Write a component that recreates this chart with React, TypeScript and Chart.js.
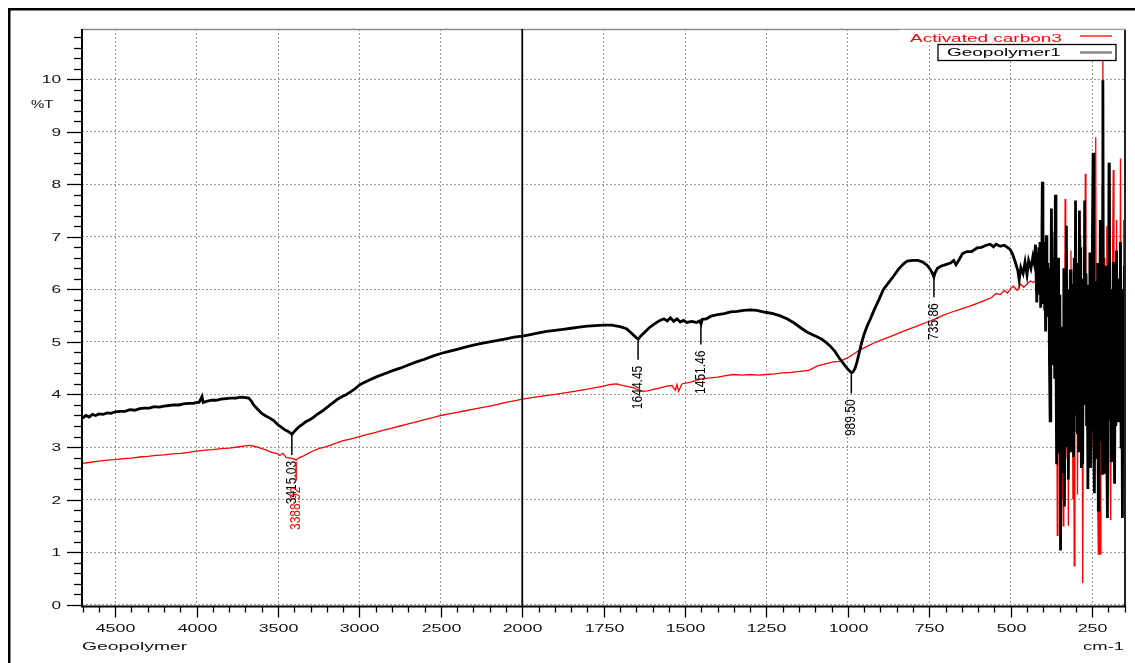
import React, { useEffect, useRef } from "react";
import { Chart, registerables } from "chart.js";

Chart.register(...registerables);

// ---------------- data ----------------
const seriesNames = ["Geopolymer1", "Activated carbon3"];

// Geopolymer1 — smooth part of the spectrum
const geoWave = [
  4700, 4680, 4660, 4640, 4620, 4600, 4575, 4550, 4525, 4500, 4470, 4440, 4410, 4380, 4350, 4320, 4290, 4260,
  4230, 4200, 4170, 4140, 4110, 4080, 4050, 4020, 4000, 3985, 3967, 3960, 3940, 3910, 3880, 3850, 3820, 3790,
  3760, 3730, 3700, 3680, 3665, 3650, 3625, 3600, 3575, 3550, 3525, 3500, 3480, 3460, 3440, 3425, 3415, 3405,
  3390, 3370, 3350, 3330, 3305, 3285, 3260, 3230, 3205, 3180, 3155, 3130, 3105, 3080, 3055, 3030, 3000, 2970,
  2935, 2900, 2850, 2800, 2750, 2700, 2650, 2600, 2550, 2500, 2450, 2400, 2350, 2300, 2250, 2200, 2150, 2100,
  2050, 2000, 1975, 1950, 1925, 1900, 1875, 1850, 1825, 1800, 1775, 1750, 1725, 1700, 1680, 1665, 1655, 1648,
  1644, 1638, 1625, 1610, 1595, 1580, 1565, 1555, 1545, 1535, 1525, 1515, 1505, 1495, 1480, 1465, 1455, 1451,
  1447, 1435, 1420, 1400, 1380, 1360, 1340, 1320, 1300, 1280, 1260, 1249, 1230, 1210, 1187, 1165, 1145, 1126,
  1110, 1095, 1080, 1065, 1054, 1040, 1025, 1010, 1000, 993, 989, 984, 978, 972, 965, 958, 950, 941, 930, 920,
  905, 891, 875, 860, 845, 830, 818, 800, 785, 770, 757, 747, 740, 736, 732, 725, 715, 700, 685, 675, 668, 660,
  648, 635, 620, 603, 590, 575, 563, 553, 545, 532, 520, 510, 502, 495, 486, 478, 474, 469, 462, 456, 450, 445,
  438, 432, 428, 424,
];
const geoT = [
  3.55, 3.6, 3.57, 3.62, 3.6, 3.63, 3.62, 3.65, 3.64, 3.67, 3.68, 3.68, 3.71, 3.7, 3.73, 3.74, 3.74, 3.77,
  3.76, 3.78, 3.79, 3.8, 3.8, 3.82, 3.83, 3.83, 3.85, 3.85, 3.96, 3.85, 3.87, 3.89, 3.89, 3.91, 3.92, 3.93,
  3.93, 3.95, 3.94, 3.93, 3.88, 3.8, 3.72, 3.64, 3.59, 3.55, 3.5, 3.42, 3.38, 3.33, 3.3, 3.27, 3.24, 3.28,
  3.33, 3.39, 3.43, 3.48, 3.52, 3.56, 3.62, 3.68, 3.74, 3.8, 3.86, 3.92, 3.96, 4.0, 4.05, 4.1, 4.18, 4.23,
  4.28, 4.33, 4.39, 4.45, 4.5, 4.56, 4.62, 4.67, 4.73, 4.78, 4.82, 4.86, 4.9, 4.94, 4.97, 5.0, 5.03, 5.06,
  5.09, 5.11, 5.14, 5.17, 5.2, 5.22, 5.24, 5.26, 5.28, 5.3, 5.31, 5.32, 5.32, 5.29, 5.25, 5.17, 5.11, 5.07,
  5.05, 5.1, 5.18, 5.27, 5.34, 5.4, 5.44, 5.4, 5.46, 5.39, 5.44, 5.38, 5.41, 5.37, 5.39, 5.37, 5.4, 5.34,
  5.43, 5.44, 5.49, 5.52, 5.54, 5.57, 5.58, 5.6, 5.61, 5.6, 5.57, 5.56, 5.54, 5.5, 5.44, 5.36, 5.27, 5.19,
  5.14, 5.1, 5.05, 4.98, 4.92, 4.82, 4.68, 4.56, 4.48, 4.44, 4.41, 4.43, 4.5, 4.62, 4.8, 4.98, 5.15, 5.3, 5.45, 5.6,
  5.8, 6.0, 6.13, 6.25, 6.38, 6.48, 6.54, 6.55, 6.55, 6.52, 6.46, 6.38, 6.3, 6.24, 6.32, 6.4, 6.44, 6.47, 6.5, 6.55, 6.47, 6.55,
  6.68, 6.72, 6.72, 6.79, 6.8, 6.84, 6.86, 6.81, 6.86, 6.82, 6.84, 6.8, 6.76, 6.68, 6.52, 6.35, 6.18, 6.42, 6.3, 6.52, 6.28, 6.55,
  6.4, 6.62, 6.5, 6.85,
];

// Geopolymer1 — noisy low-wavenumber end (420 → 147 cm-1)
const geoNoiseWave = [
  420, 418, 416, 414, 412, 410, 408, 406, 404, 403,
  401, 399, 397, 395, 393, 391, 389, 387, 385, 383,
  381, 379, 377, 375, 373, 371, 369, 367, 365, 363,
  361, 359, 357, 355, 353, 351, 349, 347, 345, 343,
  341, 339, 337, 335, 333, 331, 329, 327, 325, 323,
  321, 319, 317, 315, 313, 311, 309, 307, 305, 303,
  301, 299, 297, 295, 293, 291, 289, 287, 285, 283,
  281, 279, 277, 275, 273, 271, 269, 267, 265, 263,
  261, 259, 257, 255, 253, 251, 249, 247, 245, 243,
  241, 239, 237, 235, 233, 231, 229, 227, 225, 223,
  221, 219, 217, 215, 213, 211, 209, 207, 205, 203,
  201, 199, 197, 195, 193, 191, 189, 187, 185, 183,
  181, 179, 177, 175, 173, 171, 169, 167, 165, 163,
  161, 159, 157, 155, 153, 151, 149, 147,
];
const geoNoiseT = [
  5.75, 6.7, 6.1, 6.8, 5.9, 6.9, 5.65, 6.5, 7.2, 8.05,
  5.72, 6.6, 6.0, 6.9, 5.2, 7.03, 5.9, 6.5, 5.5, 6.4,
  4.6, 3.5, 5.5, 7.54, 5.1, 6.6, 4.56, 6.3, 4.3, 7.8,
  4.8, 2.67, 6.2, 3.9, 6.6, 2.9, 5.9, 1.03, 4.8, 2.5,
  5.29, 3.2, 6.4, 1.87, 5.6, 3.0, 7.21, 3.4, 6.0, 2.38,
  5.7, 3.1, 6.38, 2.9, 6.1, 3.5, 5.4, 2.81, 6.6, 3.6,
  7.69, 4.2, 6.5, 3.25, 5.8, 2.9, 7.5, 4.1, 6.8, 2.6,
  5.5, 2.67, 6.2, 3.8, 7.69, 3.9, 6.3, 3.4, 5.8, 2.2,
  6.09, 3.6, 6.7, 2.6, 5.5, 3.3, 7.1, 8.6, 3.0, 2.12,
  6.0, 3.4, 6.16, 2.8, 6.5, 1.8, 5.2, 3.1, 7.32, 4.0,
  6.8, 2.5, 9.98, 4.2, 2.52, 6.2, 3.3, 6.45, 2.9, 1.65,
  5.6, 3.5, 8.41, 3.6, 6.0, 2.74, 5.8, 3.2, 6.52, 3.8,
  2.3, 6.1, 3.4, 6.74, 4.0, 6.2, 3.47, 5.9, 3.8, 6.9,
  3.0, 5.6, 1.65, 6.0, 3.5, 6.45, 4.5, 5.5,
];

// Activated carbon3 — smooth part
const carbonWave = [
  4700, 4650, 4600, 4550, 4500, 4450, 4400, 4350, 4300, 4250, 4200, 4150, 4100, 4050, 4000, 3950, 3900, 3850,
  3800, 3750, 3700, 3670, 3640, 3600, 3570, 3540, 3510, 3490, 3470, 3450, 3420, 3400, 3389, 3375, 3350, 3320,
  3290, 3250, 3215, 3180, 3140, 3100, 3057, 3000, 2950, 2900, 2850, 2800, 2750, 2700, 2650, 2600, 2550, 2500,
  2450, 2400, 2350, 2300, 2250, 2200, 2150, 2100, 2050, 2000, 1950, 1900, 1850, 1800, 1775, 1750, 1730, 1710,
  1690, 1675, 1660, 1645, 1630, 1615, 1600, 1580, 1556, 1540, 1530, 1525, 1520, 1510, 1480, 1455, 1430, 1400,
  1375, 1352, 1325, 1300, 1275, 1249, 1225, 1200, 1175, 1147, 1120, 1095, 1070, 1045, 1025, 1000, 980, 963,
  940, 920, 900, 870, 839, 815, 788, 760, 735, 710, 685, 660, 630, 605, 583, 560, 545, 532, 520, 510, 500, 492,
  480, 470, 460, 450, 440, 431, 420, 409,
];
const carbonT = [
  2.69, 2.71, 2.73, 2.75, 2.76, 2.78, 2.79, 2.81, 2.82, 2.84, 2.85, 2.87, 2.88, 2.9, 2.92, 2.94, 2.95, 2.97,
  2.98, 3.0, 3.02, 3.03, 3.01, 2.97, 2.94, 2.9, 2.88, 2.84, 2.88, 2.8, 2.79, 2.77, 2.75, 2.79, 2.82, 2.87,
  2.92, 2.97, 3.0, 3.03, 3.08, 3.12, 3.15, 3.2, 3.24, 3.28, 3.32, 3.36, 3.4, 3.44, 3.48, 3.52, 3.56, 3.6,
  3.63, 3.66, 3.69, 3.72, 3.75, 3.78, 3.81, 3.85, 3.88, 3.91, 3.96, 4.0, 4.05, 4.1, 4.13, 4.16, 4.19, 4.2,
  4.17, 4.15, 4.13, 4.09, 4.06, 4.07, 4.09, 4.12, 4.16, 4.17, 4.08, 4.19, 4.06, 4.2, 4.24, 4.29, 4.31, 4.33,
  4.36, 4.38, 4.37, 4.38, 4.37, 4.38, 4.39, 4.41, 4.42, 4.44, 4.46, 4.54, 4.58, 4.62, 4.63, 4.7, 4.78, 4.85,
  4.92, 4.98, 5.03, 5.1, 5.18, 5.24, 5.3, 5.37, 5.43, 5.5, 5.56, 5.61, 5.67, 5.73, 5.78, 5.84, 5.92, 5.9, 5.98, 5.93, 6.02, 6.06,
  5.98, 6.1, 6.04, 6.1, 6.16, 6.13, 6.18, 6.19,
];

// Activated carbon3 — noisy low-wavenumber end (407 → 147 cm-1)
const carbonNoiseWave = [
  407, 405, 403, 401, 399, 397, 395, 393, 391, 389,
  387, 385, 383, 381, 379, 377, 375, 373, 371, 369,
  367, 365, 363, 361, 359, 357, 355, 353, 351, 349,
  347, 345, 343, 341, 339, 337, 335, 333, 331, 329,
  327, 325, 323, 321, 319, 317, 315, 313, 311, 309,
  307, 305, 303, 301, 299, 297, 295, 293, 291, 289,
  287, 285, 283, 281, 279, 277, 275, 273, 271, 269,
  267, 265, 263, 261, 259, 257, 255, 253, 251, 249,
  247, 245, 243, 241, 239, 237, 235, 233, 231, 229,
  227, 225, 223, 221, 219, 217, 215, 213, 211, 209,
  207, 205, 203, 201, 199, 197, 195, 193, 191, 189,
  187, 185, 183, 181, 179, 177, 175, 173, 171, 169,
  167, 165, 163, 161, 159, 157, 155, 153, 151, 149,
  147,
];
const carbonNoiseT = [
  5.9, 6.4, 5.8, 6.5, 5.6, 6.3, 5.6, 6.6, 6.8, 5.7,
  6.2, 5.5, 6.5, 5.9, 6.3, 6.9, 5.4, 6.0, 4.8, 6.2,
  7.1, 4.6, 6.0, 3.5, 5.2, 1.32, 4.5, 6.16, 3.8, 5.6,
  3.0, 5.0, 2.0, 4.6, 1.5, 5.2, 3.4, 7.72, 4.5, 6.0,
  2.8, 5.3, 1.5, 4.2, 6.0, 3.5, 6.74, 3.2, 5.1, 2.0,
  4.4, 0.74, 4.1, 5.94, 3.3, 5.5, 2.09, 4.6, 6.0, 3.5,
  7.03, 4.5, 3.0, 5.5, 0.41, 4.2, 6.52, 4.8, 8.2, 3.9,
  6.3, 3.25, 5.4, 2.6, 6.0, 4.0, 6.5, 3.0, 5.2, 4.0,
  6.5, 3.0, 5.6, 3.2, 8.89, 4.5, 6.0, 2.0, 0.96, 4.0,
  2.2, 0.96, 4.5, 5.5, 8.0, 10.38, 5.0, 6.6, 3.1, 5.5,
  4.0, 7.2, 3.0, 8.41, 4.5, 6.0, 2.8, 1.61, 5.0, 3.3,
  6.8, 8.27, 4.0, 2.89, 6.0, 3.6, 7.32, 4.2, 5.5, 3.83,
  6.0, 4.2, 8.49, 5.0, 3.0, 2.89, 6.0, 7.32, 4.6, 5.5,
  5.0,
];

// peak annotations
const peakWave = [3415.03, 1644.45, 1451.46, 989.5, 735.86, 3388.92];
const peakT = [3.25, 5.06, 5.35, 4.42, 6.25, 2.76];
const peakLabels = ["3415.03", "1644.45", "1451.46", "989.50", "735.86", "3388.92"];
const peakSeries = [0, 0, 0, 0, 0, 1];

const yTitle = "%T";
const xTitle = "Geopolymer";
const xUnit = "cm-1";

// axis with a scale break at 2000 cm-1 (high-wavenumber half compressed 2x)
const BREAK = 2000;
const toAxis = (w: number) => (w > BREAK ? BREAK + (w - BREAK) / 2 : w);
const fromAxis = (u: number) => (u > BREAK ? BREAK + (u - BREAK) * 2 : u);

const X_MIN = 146;
const X_MAX = 3352;
const Y_MIN = -0.035;
const Y_MAX = 10.955;

const colors = ["#000000", "#ff0000"];
const FONT = '"Liberation Sans", Arial, Helvetica, sans-serif';

const isMajorX = (v: number) => Math.abs(v / 250 - Math.round(v / 250)) < 1e-6;
const isMajorY = (v: number) => Math.abs(v - Math.round(v)) < 1e-6;

function wideText(
  ctx: CanvasRenderingContext2D,
  text: string,
  x: number,
  y: number,
  align: CanvasTextAlign,
  size: number,
  sx: number,
  color: string
) {
  ctx.save();
  ctx.translate(x, y);
  ctx.scale(sx, 1);
  ctx.font = `${size}px ${FONT}`;
  ctx.fillStyle = color;
  ctx.textAlign = align;
  ctx.textBaseline = "middle";
  ctx.fillText(text, 0, 0);
  ctx.restore();
}

const decor = {
  id: "decor",
  beforeDraw(chart: any) {
    const ctx = chart.ctx as CanvasRenderingContext2D;
    ctx.save();
    ctx.fillStyle = "#ffffff";
    ctx.fillRect(0, 0, chart.width, chart.height);
    ctx.fillStyle = "#000";
    ctx.fillRect(8, 8, chart.width, 2.5);
    ctx.fillRect(8, 8, 2.5, chart.height);
    ctx.restore();
  },
  afterDraw(chart: any) {
    const ctx = chart.ctx as CanvasRenderingContext2D;
    const a = chart.chartArea;
    const xs = chart.scales.x;
    const ys = chart.scales.y;
    ctx.save();

    // frame of plot
    ctx.strokeStyle = "#8a8a8a";
    ctx.lineWidth = 1.5;
    ctx.beginPath();
    ctx.moveTo(a.left, a.top + 0.5);
    ctx.lineTo(a.right, a.top + 0.5);
    ctx.stroke();
    ctx.strokeStyle = "#222";
    ctx.lineWidth = 2;
    ctx.beginPath();
    ctx.moveTo(a.right - 1, a.top);
    ctx.lineTo(a.right - 1, a.bottom);
    ctx.stroke();

    // scale-break line
    const bx = xs.getPixelForValue(BREAK);
    ctx.strokeStyle = "#000";
    ctx.lineWidth = 1.8;
    ctx.beginPath();
    ctx.moveTo(bx, a.top);
    ctx.lineTo(bx, a.bottom);
    ctx.stroke();

    // axes lines
    ctx.lineWidth = 2;
    ctx.beginPath();
    ctx.moveTo(a.left, a.top);
    ctx.lineTo(a.left, a.bottom + 1);
    ctx.moveTo(a.left, a.bottom);
    ctx.lineTo(a.right, a.bottom);
    ctx.stroke();

    // x ticks + labels
    ctx.lineWidth = 1.3;
    for (const t of xs.ticks) {
      const px = Math.round(xs.getPixelForValue(t.value)) + 0.5;
      const major = isMajorX(t.value);
      ctx.beginPath();
      ctx.moveTo(px, a.bottom);
      ctx.lineTo(px, a.bottom + (major ? 11 : 6));
      ctx.stroke();
      if (major) {
        wideText(ctx, String(fromAxis(t.value)), px, a.bottom + 22.5, "center", 11.5, 1.55, "#111");
      }
    }
    // y ticks + labels
    for (const t of ys.ticks) {
      const py = Math.round(ys.getPixelForValue(t.value)) + 0.5;
      const major = isMajorY(t.value);
      ctx.beginPath();
      ctx.moveTo(a.left - (major ? 15 : 8), py);
      ctx.lineTo(a.left, py);
      ctx.stroke();
      if (major) {
        wideText(ctx, String(Math.round(t.value)), a.left - 21, py, "right", 11.5, 1.5, "#111");
      }
    }

    // titles
    wideText(ctx, yTitle, 31, 105, "left", 11.5, 1.3, "#111");
    wideText(ctx, xTitle, a.left, 647, "left", 11.5, 1.68, "#111");
    wideText(ctx, xUnit, a.right - 2, 647, "right", 11.5, 1.6, "#111");

    // peak markers
    for (let i = 0; i < peakWave.length; i++) {
      const col = colors[peakSeries[i]];
      const px = xs.getPixelForValue(toAxis(peakWave[i]));
      const py = ys.getPixelForValue(peakT[i]);
      ctx.strokeStyle = col;
      ctx.lineWidth = 1.5;
      ctx.beginPath();
      ctx.moveTo(px, py + 2);
      ctx.lineTo(px, py + 21);
      ctx.stroke();
      ctx.save();
      ctx.translate(px, py + 27);
      ctx.scale(1.2, 1);
      ctx.rotate(-Math.PI / 2);
      ctx.font = `12px ${FONT}`;
      ctx.fillStyle = col;
      ctx.textAlign = "right";
      ctx.textBaseline = "middle";
      ctx.fillText(peakLabels[i], 0, 0);
      ctx.restore();
    }

    // legend
    ctx.fillStyle = "#fff";
    ctx.fillRect(900, a.top + 1, a.right - 902, 15);
    ctx.strokeStyle = "#9a9a9a";
    ctx.lineWidth = 1;
    ctx.beginPath();
    ctx.moveTo(900, a.top + 0.5);
    ctx.lineTo(a.right, a.top + 0.5);
    ctx.stroke();
    wideText(ctx, seriesNames[1], 910, 39, "left", 11.5, 1.65, colors[1]);
    ctx.strokeStyle = colors[1];
    ctx.lineWidth = 1.3;
    ctx.beginPath();
    ctx.moveTo(1080, 36);
    ctx.lineTo(1112, 36);
    ctx.stroke();
    ctx.fillStyle = "#fff";
    ctx.fillRect(938, 44.5, 178, 16);
    ctx.strokeStyle = "#000";
    ctx.lineWidth = 1.3;
    ctx.strokeRect(938, 44.5, 178, 16);
    wideText(ctx, seriesNames[0], 947, 53, "left", 11.5, 1.65, "#000");
    ctx.strokeStyle = "#8a8a8a";
    ctx.lineWidth = 2.5;
    ctx.beginPath();
    ctx.moveTo(1080, 52.5);
    ctx.lineTo(1112, 52.5);
    ctx.stroke();

    ctx.restore();
  },
};

export default function App() {
  const ref = useRef<HTMLCanvasElement | null>(null);

  useEffect(() => {
    if (!ref.current) return;
    const geoAllW = geoWave.concat(geoNoiseWave);
    const geoAllT = geoT.concat(geoNoiseT);
    const carAllW = carbonWave.concat(carbonNoiseWave);
    const carAllT = carbonT.concat(carbonNoiseT);
    const geoData = geoAllW.map((w, i) => ({ x: toAxis(w), y: geoAllT[i] }));
    const carbonData = carAllW.map((w, i) => ({ x: toAxis(w), y: carAllT[i] }));

    const gridColor = (major: (v: number) => boolean) => (c: any) =>
      c.tick && major(c.tick.value) ? "#9a9a9a" : "rgba(0,0,0,0)";

    const chart = new Chart(ref.current, {
      type: "line",
      data: {
        datasets: [
          {
            label: seriesNames[0],
            data: geoData,
            borderColor: colors[0],
            borderWidth: 2.8,
            pointRadius: 0,
            tension: 0,
            order: 1,
          },
          {
            label: seriesNames[1],
            data: carbonData,
            borderColor: colors[1],
            borderWidth: 1.3,
            pointRadius: 0,
            tension: 0,
            order: 2,
          },
        ],
      },
      options: {
        animation: false,
        responsive: false,
        events: [],
        layout: { padding: { left: 82, top: 29, right: 9, bottom: 56.5 } },
        plugins: { legend: { display: false }, tooltip: { enabled: false } },
        scales: {
          x: {
            type: "linear",
            reverse: true,
            min: X_MIN,
            max: X_MAX,
            ticks: { display: false, stepSize: 50, includeBounds: false, autoSkip: false },
            grid: { color: gridColor(isMajorX), lineWidth: 1, drawTicks: false },
            border: { display: false, dash: [2, 2] },
          },
          y: {
            type: "linear",
            min: Y_MIN,
            max: Y_MAX,
            ticks: { display: false, stepSize: 0.2, includeBounds: false, autoSkip: false },
            grid: { color: gridColor(isMajorY), lineWidth: 1, drawTicks: false },
            border: { display: false, dash: [2, 2] },
          },
        },
      } as any,
      plugins: [decor],
    });
    return () => chart.destroy();
  }, []);

  return (
    <div style={{ position: "absolute", left: 0, top: 0, width: 1135, height: 663 }}>
      <canvas ref={ref} width={1135} height={663} style={{ display: "block" }} />
    </div>
  );
}
